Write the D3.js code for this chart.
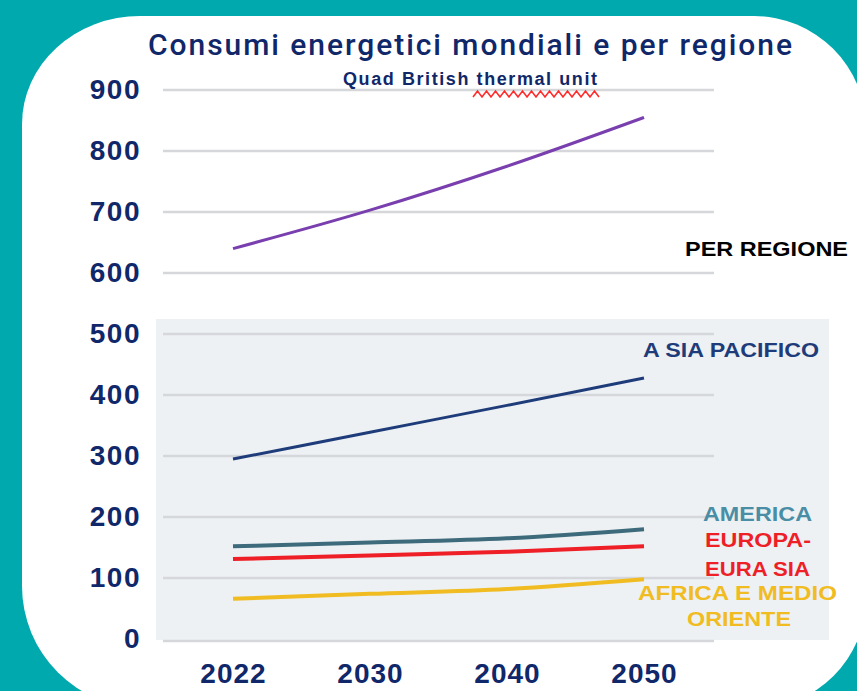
<!DOCTYPE html>
<html>
<head>
<meta charset="utf-8">
<script src="https://cdn.jsdelivr.net/npm/d3@7"></script>
<style>
  html, body { margin: 0; padding: 0; background: #00a9ae; }
  svg { display: block; font-family: "Liberation Sans", Arial, sans-serif; }
</style>
</head>
<body>
<script>
// Categories (x axis) and series values
const years = ["2022", "2030", "2040", "2050"];
const mondo = [640, 703, 775, 855];
const asiaPacifico = [295, 339, 383, 428];
const america = [152, 158, 165, 180];
const europaEurasia = [131, 137, 143, 152];
const africaMedioOriente = [66, 74, 82, 98];
const yTicks = [0, 100, 200, 300, 400, 500, 600, 700, 800, 900];

const W = 857, H = 691;
const navy = "#10276a";

const series = [
  { name: "mondo", values: mondo, color: "#7a3fae", width: 3 },
  { name: "asia", values: asiaPacifico, color: "#1f3c7a", width: 3 },
  { name: "america", values: america, color: "#3e6b7c", width: 4 },
  { name: "europa", values: europaEurasia, color: "#ee1f27", width: 4 },
  { name: "africa", values: africaMedioOriente, color: "#f0bc22", width: 4 }
];

const svg = d3.select("body").append("svg")
  .attr("width", W)
  .attr("height", H);

// teal background + white card with rounded corners
svg.append("rect").attr("width", W).attr("height", H).attr("fill", "#00a9ae");
const T = 16, L = 22, R = 866, B = 708;
const card = [
  `M${L + 118},${T}`,
  `L${R - 112},${T}`,
  `A112,112 0 0 1 ${R},${T + 112}`,
  `L${R},${B - 110}`,
  `A110,110 0 0 1 ${R - 110},${B}`,
  `L${L + 122},${B}`,
  `A122,122 0 0 1 ${L},${B - 122}`,
  `L${L},${T + 108}`,
  `A118,108 0 0 1 ${L + 118},${T}`,
  "Z"
].join(" ");
svg.append("path").attr("d", card).attr("fill", "#ffffff");

// scales
const x = d3.scalePoint().domain(years).range([233, 644]);
const y = d3.scaleLinear().domain([0, 900]).range([639, 90]);

// grey panel behind the lower part ("per regione")
svg.append("rect")
  .attr("x", 156).attr("y", 319)
  .attr("width", 673).attr("height", 321)
  .attr("fill", "#edf1f4");

// gridlines
svg.append("g").selectAll("line")
  .data(yTicks)
  .join("line")
  .attr("x1", 163).attr("x2", 714)
  .attr("y1", (d) => y(d) + (d === 0 ? 2 : 0))
  .attr("y2", (d) => y(d) + (d === 0 ? 2 : 0))
  .attr("stroke", "#d5d7da")
  .attr("stroke-width", 2.5);

// y axis
const yAxis = svg.append("g")
  .attr("transform", "translate(163,0)")
  .call(d3.axisLeft(y).tickValues(yTicks).tickSize(0).tickPadding(22));
yAxis.select(".domain").remove();
yAxis.selectAll("text")
  .attr("fill", navy)
  .style("font-family", "'Liberation Sans', Arial, sans-serif")
  .style("font-size", "28px")
  .style("font-weight", "bold")
  .style("letter-spacing", "1.5px");

// x axis
const xAxis = svg.append("g")
  .attr("transform", "translate(0,639)")
  .call(d3.axisBottom(x).tickSize(0).tickPadding(24));
xAxis.select(".domain").remove();
xAxis.selectAll("text")
  .attr("fill", navy)
  .style("font-family", "'Liberation Sans', Arial, sans-serif")
  .style("font-size", "28px")
  .style("font-weight", "bold")
  .style("letter-spacing", "1px");

// lines
const line = d3.line()
  .x((d, i) => x(years[i]))
  .y((d) => y(d))
  .curve(d3.curveMonotoneX);

svg.append("g").selectAll("path")
  .data(series)
  .join("path")
  .attr("d", (d) => line(d.values))
  .attr("fill", "none")
  .attr("stroke", (d) => d.color)
  .attr("stroke-width", (d) => d.width);

// title and subtitle
svg.append("text")
  .attr("x", 148).attr("y", 55)
  .attr("textLength", 644).attr("lengthAdjust", "spacing")
  .attr("fill", navy)
  .style("font-family", "Roboto, 'Liberation Sans', sans-serif")
  .style("font-size", "30px")
  .style("font-weight", 500)
  .text("Consumi energetici mondiali e per regione");

svg.append("text")
  .attr("x", 343).attr("y", 85)
  .attr("textLength", 254).attr("lengthAdjust", "spacing")
  .attr("fill", navy)
  .style("font-size", "18px")
  .style("font-weight", "bold")
  .text("Quad British thermal unit");

// red spell-check squiggle under "thermal unit"
const sq = d3.range(473, 601, 4.5).map((v, i) => [v, i % 2 ? 91 : 97]);
svg.append("path")
  .attr("d", d3.line()(sq))
  .attr("fill", "none")
  .attr("stroke", "#ff2a2a")
  .attr("stroke-width", 1.6);

// region labels
const labels = [
  { text: "PER REGIONE", x: 685, y: 256, len: 163, color: "#000000" },
  { text: "A SIA PACIFICO", x: 643, y: 357, len: 176, color: "#1f3c7a" },
  { text: "AMERICA", x: 703, y: 521, len: 109, color: "#4a8ea6" },
  { text: "EUROPA-", x: 705, y: 547, len: 106, color: "#ee1f27" },
  { text: "EURA SIA", x: 705, y: 576, len: 105, color: "#ee1f27" },
  { text: "AFRICA E MEDIO", x: 638, y: 600, len: 199, color: "#f0bc22" },
  { text: "ORIENTE", x: 687, y: 626, len: 104, color: "#f0bc22" }
];

svg.append("g").selectAll("text")
  .data(labels)
  .join("text")
  .attr("x", (d) => d.x)
  .attr("y", (d) => d.y)
  .attr("textLength", (d) => d.len)
  .attr("lengthAdjust", "spacingAndGlyphs")
  .attr("fill", (d) => d.color)
  .style("font-size", "21px")
  .style("font-weight", "bold")
  .text((d) => d.text);
</script>
</body>
</html>
